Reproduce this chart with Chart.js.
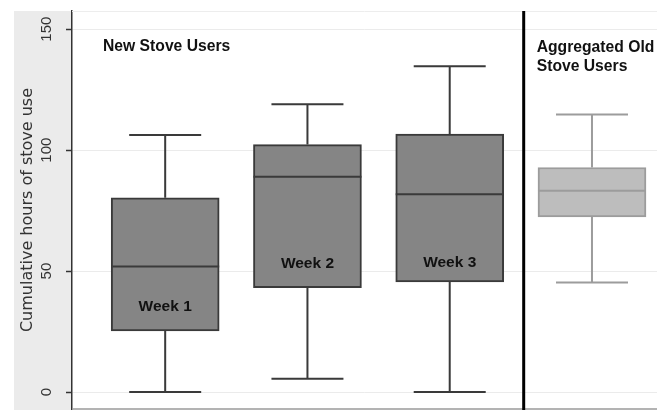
<!DOCTYPE html>
<html>
<head>
<meta charset="utf-8">
<script src="https://cdn.jsdelivr.net/npm/chart.js@4"></script>
<style>
  html, body { margin: 0; padding: 0; background: #fff; }
  #wrap { width: 672px; height: 410px; }
</style>
</head>
<body>
<div id="wrap"><canvas id="c" width="672" height="410"></canvas></div>
<script>
// ---- data ----
const categories   = ['Week 1', 'Week 2', 'Week 3', 'Aggregated Old Stove Users'];
const groupPos     = [1, 2, 3, 4];
const whiskerLow   = [0, 5.5, 0, 45.3];
const quartile1    = [25.3, 43.1, 45.5, 72.4];
const medianVals   = [51.9, 89.0, 81.8, 83.2];
const quartile3    = [80.3, 102.3, 106.6, 92.8];
const whiskerHigh  = [106.2, 119.0, 134.7, 114.7];
const yTicks       = [0, 50, 100, 150];
const yTitle       = 'Cumulative hours of stove use';
const groupTitles  = [['New Stove Users'], ['Aggregated Old', 'Stove Users']];

// ---- styles ----
const boxFill   = ['#858585', '#858585', '#858585', '#bdbdbd'];
const boxLine   = ['#3a3a3a', '#3a3a3a', '#3a3a3a', '#9c9c9c'];
const weekLabelValue = [35.2, 52.9, 53.3, null];
const dividerValue = 3.52;

const boxData = groupPos.map((x, i) => ({ x: x, y: [quartile1[i], quartile3[i]] }));

const boxPlugin = {
  id: 'boxExtras',
  beforeDraw(chart) {
    const ctx = chart.ctx, a = chart.chartArea;
    ctx.save();
    ctx.fillStyle = '#ebebeb';
    ctx.fillRect(14, a.top, a.left - 14, chart.height - a.top);
    ctx.restore();
  },
  afterDatasetsDraw(chart) {
    const ctx = chart.ctx, a = chart.chartArea;
    const ys = chart.scales.y, xs = chart.scales.x;
    const meta = chart.getDatasetMeta(0);
    ctx.save();
    meta.data.forEach((el, i) => {
      const x = el.x, half = el.width / 2, cap = el.width / 3;
      ctx.strokeStyle = boxLine[i];
      ctx.lineWidth = 2;
      ctx.beginPath();
      ctx.moveTo(x, ys.getPixelForValue(quartile3[i]));
      ctx.lineTo(x, ys.getPixelForValue(whiskerHigh[i]));
      ctx.moveTo(x, ys.getPixelForValue(quartile1[i]));
      ctx.lineTo(x, ys.getPixelForValue(whiskerLow[i]));
      const yh = ys.getPixelForValue(whiskerHigh[i]);
      const yl = ys.getPixelForValue(whiskerLow[i]);
      ctx.moveTo(x - cap, yh); ctx.lineTo(x + cap, yh);
      ctx.moveTo(x - cap, yl); ctx.lineTo(x + cap, yl);
      const ym = ys.getPixelForValue(medianVals[i]);
      ctx.moveTo(x - half, ym); ctx.lineTo(x + half, ym);
      ctx.stroke();
      if (weekLabelValue[i] !== null) {
        ctx.fillStyle = '#111';
        ctx.font = 'bold 15.5px "Liberation Sans", Arial, sans-serif';
        ctx.textAlign = 'center';
        ctx.textBaseline = 'middle';
        ctx.fillText(categories[i], x, ys.getPixelForValue(weekLabelValue[i]));
      }
    });
    ctx.lineWidth = 1;
    ctx.strokeStyle = '#ededed';
    ctx.beginPath(); ctx.moveTo(a.left, a.top + 0.5); ctx.lineTo(a.right, a.top + 0.5); ctx.stroke();
    ctx.strokeStyle = '#9a9a9a';
    ctx.lineWidth = 1.5;
    ctx.beginPath(); ctx.moveTo(a.left, a.bottom); ctx.lineTo(a.right, a.bottom); ctx.stroke();
    const xd = xs.getPixelForValue(dividerValue);
    ctx.strokeStyle = '#000';
    ctx.lineWidth = 3;
    ctx.beginPath(); ctx.moveTo(xd, a.top); ctx.lineTo(xd, chart.height); ctx.stroke();
    ctx.fillStyle = '#111';
    ctx.font = 'bold 15.7px "Liberation Sans", Arial, sans-serif';
    ctx.textAlign = 'left';
    ctx.textBaseline = 'middle';
    ctx.fillText(groupTitles[0][0], a.left + 31, 47);
    groupTitles[1].forEach((t, k) => ctx.fillText(t, xd + 13, 48 + k * 19));
    ctx.fillStyle = '#333';
    ctx.font = '15px "Liberation Sans", Arial, sans-serif';
    ctx.textAlign = 'center';
    ctx.textBaseline = 'middle';
    ys.ticks.forEach(t => {
      const py = ys.getPixelForValue(t.value);
      ctx.save();
      ctx.translate(47, py);
      ctx.rotate(-Math.PI / 2);
      ctx.fillText(String(t.value), 0, 0);
      ctx.restore();
    });
    ctx.save();
    ctx.fillStyle = '#333';
    ctx.font = '16px "DejaVu Sans", sans-serif';
    ctx.translate(28, (a.top + a.bottom) / 2);
    ctx.rotate(-Math.PI / 2);
    ctx.fillText(yTitle, 0, 0);
    ctx.restore();
    ctx.restore();
  }
};

new Chart(document.getElementById('c'), {
  type: 'bar',
  data: {
    datasets: [{
      data: boxData,
      backgroundColor: boxFill,
      borderColor: boxLine,
      borderWidth: 2,
      borderSkipped: false,
      barThickness: 108
    }]
  },
  options: {
    responsive: false,
    animation: false,
    layout: { padding: { top: 11, right: 15, bottom: 1, left: 0 } },
    plugins: { legend: { display: false }, tooltip: { enabled: false } },
    scales: {
      x: { type: 'linear', min: 0.345, max: 4.457, offset: false, display: false },
      y: {
        min: -7, max: 157.5,
        afterBuildTicks: s => { s.ticks = yTicks.map(v => ({ value: v })); },
        afterFit: s => { s.width = 72; s.paddingTop = 0; s.paddingBottom = 0; },
        grid: { color: '#ebebeb', lineWidth: 1, tickLength: 6, tickColor: '#333', tickWidth: 1.5 },
        border: { display: true, color: '#333', width: 1.5 },
        ticks: { display: false }
      }
    }
  },
  plugins: [boxPlugin]
});
</script>
</body>
</html>
